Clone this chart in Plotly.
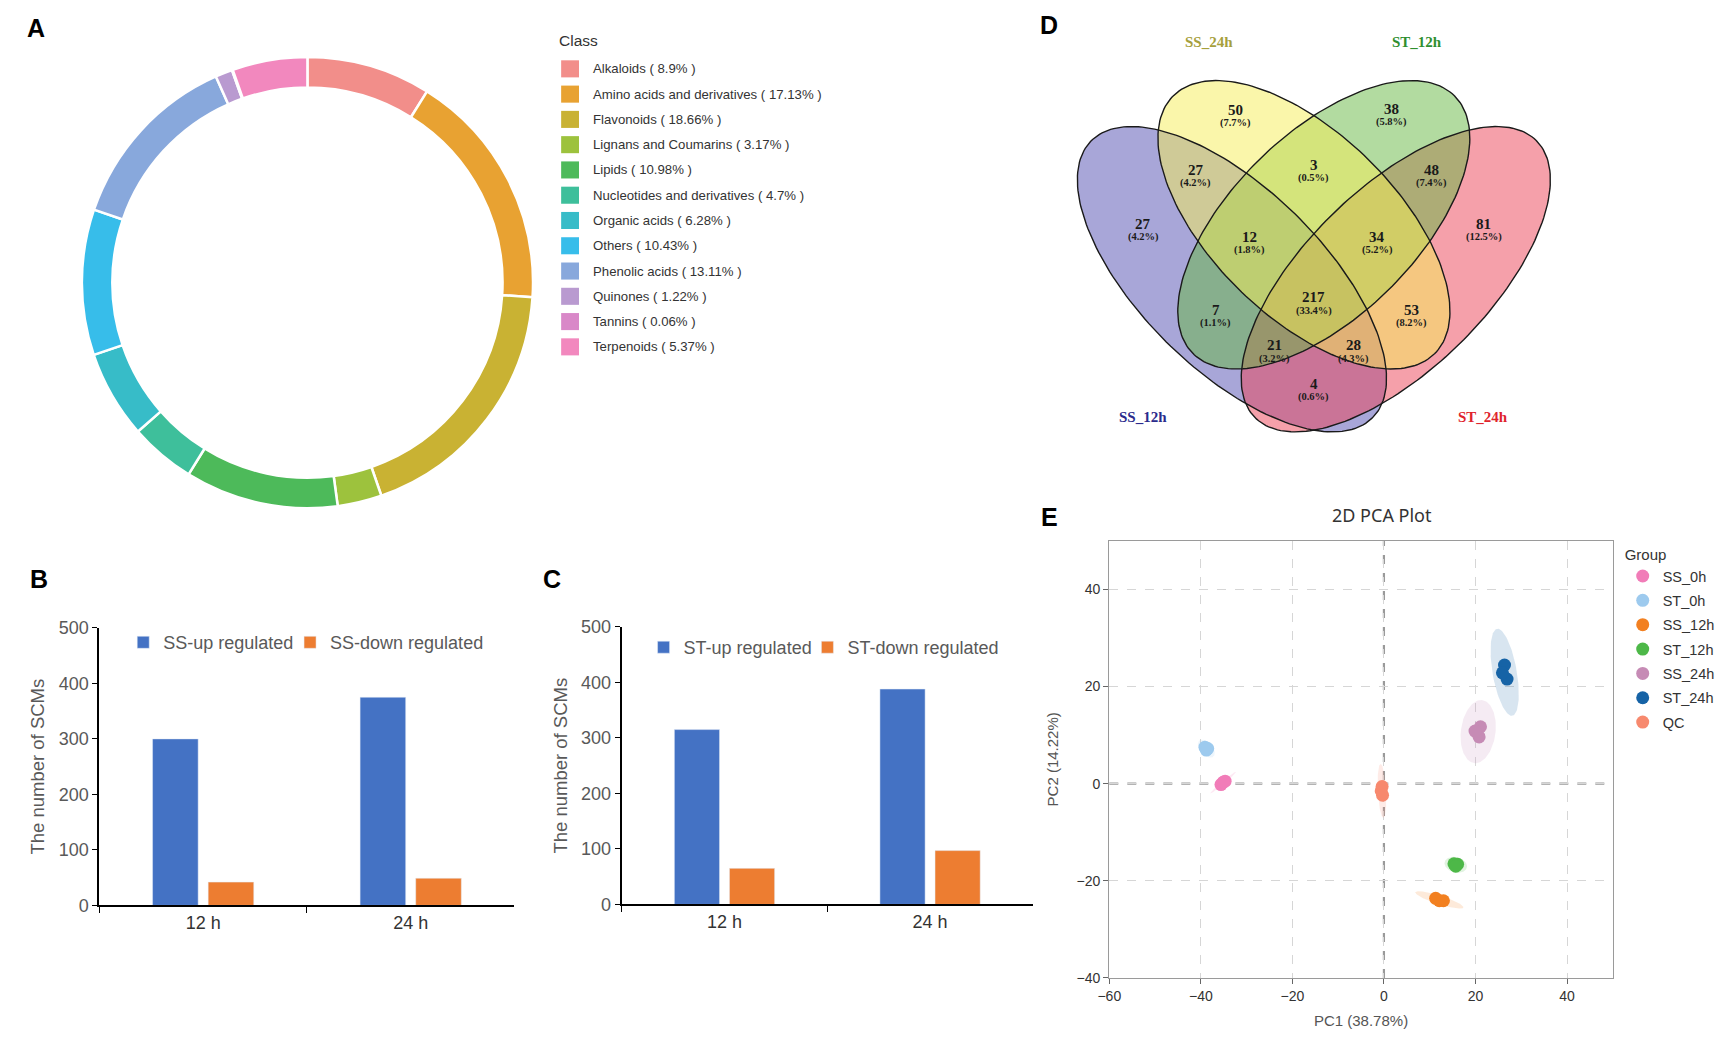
import numpy as np
import plotly.graph_objects as go

W, H = 1723, 1039

# ---------------- Panel A data ----------------
class_names = ["Alkaloids", "Amino acids and derivatives", "Flavonoids", "Lignans and Coumarins",
               "Lipids", "Nucleotides and derivatives", "Organic acids", "Others",
               "Phenolic acids", "Quinones", "Tannins", "Terpenoids"]
class_pcts = [8.9, 17.13, 18.66, 3.17, 10.98, 4.7, 6.28, 10.43, 13.11, 1.22, 0.06, 5.37]
class_colors = ["#F28E8A", "#E8A232", "#C9B233", "#9DC23D", "#4DBA5A", "#3EBF9B",
                "#37BCC8", "#37BDEA", "#88A8DC", "#B99AD0", "#D988C8", "#F288BE"]

# ---------------- Panels B / C data ----------------
time_labels = ["12 h", "24 h"]
ss_up = [300, 375]
ss_down = [42, 49]
st_up = [315, 388]
st_down = [65, 97]

# ---------------- Panel D data ----------------
venn_sets = ["SS_12h", "SS_24h", "ST_12h", "ST_24h"]
venn_set_colors = ["#2B2B8C", "#A6A03C", "#2F8F2F", "#E0242C"]
venn_regions = ["A", "B", "C", "D", "AB", "BC", "CD", "AC", "BD", "AD",
                "ABC", "BCD", "ACD", "ABD", "ABCD"]
venn_counts = [27, 50, 38, 81, 27, 3, 48, 7, 53, 4, 12, 34, 21, 28, 217]

# ---------------- Panel E data ----------------
pca_groups = ["SS_0h", "ST_0h", "SS_12h", "ST_12h", "SS_24h", "ST_24h", "QC"]
pca_colors = ["#F17CB8", "#9DCAEE", "#F28021", "#4DB848", "#C68BB5", "#1663A6", "#F7896E"]
pca_pc1 = [[-35.6, -34.7, -35.1], [-39.1, -38.5, -38.8], [13.0, 11.3, 12.1],
           [15.3, 16.1, 15.7], [21.1, 20.8, 19.9], [26.35, 26.9, 25.9], [-0.4, -0.6, -0.3]]
pca_pc2 = [[-0.2, 0.5, 0.3], [7.5, 7.2, 6.9], [-24.1, -23.6, -24.1],
           [-16.5, -16.6, -17.0], [11.7, 9.6, 10.8], [24.4, 21.5, 22.8], [-0.6, -1.5, -2.4]]

# ---------------- helpers ----------------
def PX(x):
    return x / W

def PY(y):
    return 1 - y / H

SANS = "Liberation Sans, Arial, sans-serif"
SERIF = "Liberation Serif, Times New Roman, serif"
BLUE, ORANGE = "#4472C4", "#ED7D31"

fig = go.Figure()

# ---------------- Panel A: donut ----------------
cx_a, cy_a, r_a = 297.5, 278, 230
fig.add_trace(go.Pie(
    labels=class_names, values=class_pcts, sort=False, direction="clockwise", rotation=0,
    hole=0.865, textinfo="none", showlegend=False,
    marker=dict(colors=class_colors, line=dict(color="white", width=2.5)),
    domain=dict(x=[PX(cx_a - r_a), PX(cx_a + r_a)], y=[PY(cy_a + r_a), PY(cy_a - r_a)]),
))

shapes = []
annotations = []

# manual "Class" legend
annotations.append(dict(x=PX(549), y=PY(31.5), xref="paper", yref="paper", xanchor="left",
                        yanchor="middle", text="Class", showarrow=False,
                        font=dict(family=SANS, size=15.5, color="#333333")))
for i, (nm, pc, col) in enumerate(zip(class_names, class_pcts, class_colors)):
    yc = 60 + 25.77 * i
    shapes.append(dict(type="rect", xref="paper", yref="paper", x0=PX(553), x1=PX(571),
                       y0=PY(yc + 8.7), y1=PY(yc - 8.7), fillcolor=col, line=dict(width=0)))
    annotations.append(dict(x=PX(583), y=PY(yc), xref="paper", yref="paper", xanchor="left",
                            yanchor="middle", text=f"{nm} ( {pc:g}% )", showarrow=False,
                            font=dict(family=SANS, size=13.2, color="#333333")))

# ---------------- Panels B / C: bars ----------------
fig.add_trace(go.Bar(x=time_labels, y=ss_up, name="SS-up regulated", marker_color=BLUE,
                     xaxis="x", yaxis="y", legend="legend"))
fig.add_trace(go.Bar(x=time_labels, y=ss_down, name="SS-down regulated", marker_color=ORANGE,
                     xaxis="x", yaxis="y", legend="legend4"))
fig.add_trace(go.Bar(x=time_labels, y=st_up, name="ST-up regulated", marker_color=BLUE,
                     xaxis="x2", yaxis="y2", legend="legend2"))
fig.add_trace(go.Bar(x=time_labels, y=st_down, name="ST-down regulated", marker_color=ORANGE,
                     xaxis="x2", yaxis="y2", legend="legend5"))

# ---------------- Panel D: Venn ----------------
venn_geom = {  # ellipse centre x, centre y, semi-major, semi-minor, angle (deg), in panel pixels
    "A": (1228.5, 274.5, 200, 92, 45),
    "B": (1301, 219, 186, 93, 45),
    "C": (1321, 219, 186, 93, -45),
    "D": (1393.5, 274.5, 200, 92, -45),
}
venn_fill = {"A": "rgba(81,77,177,0.5)", "B": "rgba(245,237,85,0.5)",
             "C": "rgba(101,183,65,0.5)", "D": "rgba(235,65,85,0.5)"}
venn_draw_order = ["A", "D", "C", "B"]
venn_label_xy = {
    "A": (1139, 218), "B": (1232, 102), "C": (1389, 101), "D": (1482, 218),
    "AB": (1192, 163), "BC": (1311, 158), "CD": (1429, 163), "AC": (1212, 306),
    "BD": (1409, 306), "AD": (1311, 381), "ABC": (1246, 231), "BCD": (1375, 231),
    "ACD": (1271, 342), "ABD": (1351, 342), "ABCD": (1311, 293),
}
venn_name_xy = [(1139, 415), (1205, 33), (1415, 33), (1481, 415)]

tt = np.linspace(0, 2 * np.pi, 200)
ell_paths = {}
for key in ["A", "B", "C", "D"]:
    ex, ey, ea, eb, ang = venn_geom[key]
    ph = np.deg2rad(ang)
    xs = ex + ea * np.cos(tt) * np.cos(ph) - eb * np.sin(tt) * np.sin(ph)
    ys = ey + ea * np.cos(tt) * np.sin(ph) + eb * np.sin(tt) * np.cos(ph)
    ell_paths[key] = (xs, ys)
for key in venn_draw_order:
    xs, ys = ell_paths[key]
    fig.add_trace(go.Scatter(x=xs, y=ys, mode="lines", fill="toself", fillcolor=venn_fill[key],
                             line=dict(width=0), showlegend=False, hoverinfo="skip",
                             xaxis="x4", yaxis="y4"))
for key in venn_draw_order:
    xs, ys = ell_paths[key]
    fig.add_trace(go.Scatter(x=xs, y=ys, mode="lines", line=dict(color="#1a1a1a", width=1.4),
                             showlegend=False, hoverinfo="skip", xaxis="x4", yaxis="y4"))

total = sum(venn_counts)
for reg, cnt in zip(venn_regions, venn_counts):
    lx, ly = venn_label_xy[reg]
    annotations.append(dict(x=lx, y=ly, xref="x4", yref="y4", text=f"<b>{cnt}</b>",
                            xanchor="center", yanchor="middle",
                            showarrow=False, font=dict(family=SERIF, size=15, color="#1a1a1a")))
    annotations.append(dict(x=lx, y=ly + 13.5, xref="x4", yref="y4",
                            text=f"<b>({round(100 * cnt / total, 1)}%)</b>",
                            xanchor="center", yanchor="middle",
                            showarrow=False, font=dict(family=SERIF, size=10.5, color="#1a1a1a")))
for nm, col, (nx, ny) in zip(venn_sets, venn_set_colors, venn_name_xy):
    annotations.append(dict(x=nx, y=ny, xref="x4", yref="y4", text=f"<b>{nm}</b>",
                            xanchor="center", yanchor="middle",
                            showarrow=False, font=dict(family=SERIF, size=15, color=col)))

# ---------------- Panel E: PCA ----------------
K_ELL = np.sqrt(2 * 19.0)  # 95% t-ellipse scale for n = 3


def conf_ellipse(xs, ys, k, n=120):
    pts = np.column_stack([xs, ys])
    m = pts.mean(axis=0)
    cov = np.cov(pts, rowvar=False)
    vals, vecs = np.linalg.eigh(cov)
    t = np.linspace(0, 2 * np.pi, n)
    circ = np.stack([np.cos(t), np.sin(t)])
    ell = (vecs @ np.diag(np.sqrt(np.maximum(vals, 0))) @ circ) * k
    return m[0] + ell[0], m[1] + ell[1]


def rgba(hexc, a):
    hexc = hexc.lstrip("#")
    r, g, b = int(hexc[0:2], 16), int(hexc[2:4], 16), int(hexc[4:6], 16)
    return f"rgba({r},{g},{b},{a})"


for g, col, xs, ys in zip(pca_groups, pca_colors, pca_pc1, pca_pc2):
    ex, ey = conf_ellipse(xs, ys, K_ELL)
    fig.add_trace(go.Scatter(x=ex, y=ey, mode="lines", fill="toself", fillcolor=rgba(col, 0.17),
                             line=dict(width=0), showlegend=False, hoverinfo="skip",
                             xaxis="x3", yaxis="y3"))
for g, col, xs, ys in zip(pca_groups, pca_colors, pca_pc1, pca_pc2):
    fig.add_trace(go.Scatter(x=xs, y=ys, mode="markers", name=g, legendgroup=g,
                             marker=dict(color=col, size=13, line=dict(width=0)),
                             xaxis="x3", yaxis="y3", legend="legend3"))

shapes.append(dict(type="line", xref="x3", yref="y3 domain", x0=0, x1=0, y0=0, y1=1,
                   line=dict(color="#9a9a9a", width=2.2, dash="dash"), layer="below"))
shapes.append(dict(type="line", xref="x3 domain", yref="y3", x0=0, x1=1, y0=0, y1=0,
                   line=dict(color="#9a9a9a", width=2.2, dash="dash"), layer="below"))

annotations.append(dict(x=PX(1380), y=PY(515), xref="paper", yref="paper", text="2D PCA Plot",
                        xanchor="center", yanchor="middle", showarrow=False,
                        font=dict(family="Noto Sans, " + SANS, size=18, color="#333333")))

# panel letters
for lab, (lx, ly) in zip("ABCDE", [(24, 18), (27, 580), (544, 580), (1044, 15), (1045, 517)]):
    annotations.append(dict(x=PX(lx), y=PY(ly), xref="paper", yref="paper", text=f"<b>{lab}</b>",
                            xanchor="center", yanchor="middle",
                            showarrow=False, font=dict(family=SANS, size=25, color="black")))

# ---------------- axes ----------------
def bar_x(dom, anchor):
    return dict(domain=dom, anchor=anchor, type="category", showline=True, linecolor="black",
                linewidth=1.5, ticks="outside", tickson="boundaries", ticklen=6, tickcolor="black",
                tickfont=dict(family=SANS, size=18, color="#333333"), showgrid=False,
                zeroline=False, fixedrange=True)


def bar_y(dom, anchor):
    return dict(domain=dom, anchor=anchor, range=[0, 500], dtick=100, showline=True,
                linecolor="black", linewidth=2, ticks="outside", ticklen=5, tickcolor="black",
                tickfont=dict(family=SANS, size=18, color="#595959"), showgrid=False,
                zeroline=False, fixedrange=True,
                title=dict(text="The number of SCMs", standoff=9,
                           font=dict(family=SANS, size=18.5, color="#595959")))


pca_axis_common = dict(showline=True, mirror=True, linecolor="#9a9a9a", linewidth=1.3,
                       ticks="outside", ticklen=5, tickcolor="#666666",
                       tickfont=dict(family=SANS, size=14, color="#333333"),
                       showgrid=True, gridcolor="#d6d6d6", griddash="dash", gridwidth=1,
                       zeroline=False, fixedrange=True)

legend_common = dict(bgcolor="rgba(0,0,0,0)", borderwidth=0, itemclick=False,
                     itemdoubleclick=False)
bar_leg_font = dict(family=SANS, size=18, color="#595959")

fig.update_layout(
    width=W, height=H, autosize=False,
    margin=dict(l=0, r=0, t=0, b=0),
    paper_bgcolor="white", plot_bgcolor="rgba(0,0,0,0)",
    barmode="group", bargap=0.464, bargroupgap=0.18,
    xaxis=bar_x([PX(88), PX(506)], "y"),
    yaxis=bar_y([PY(913), PY(630)], "x"),
    xaxis2=bar_x([PX(614), PX(1028)], "y2"),
    yaxis2=bar_y([PY(912), PY(629)], "x2"),
    xaxis3=dict(domain=[PX(1105), PX(1612)], anchor="y3", range=[-60, 50], tick0=-60, dtick=20,
                title=dict(text="PC1 (38.78%)", standoff=12,
                           font=dict(family=SANS, size=15, color="#555555")),
                **pca_axis_common),
    yaxis3=dict(domain=[PY(987), PY(541)], anchor="x3", range=[-40, 50], tick0=-40, dtick=20,
                title=dict(text="PC2 (14.22%)", standoff=14,
                           font=dict(family=SANS, size=15, color="#555555")),
                **pca_axis_common),
    xaxis4=dict(domain=[PX(1040), PX(1580)], anchor="y4", range=[1040, 1580], visible=False,
                fixedrange=True),
    yaxis4=dict(domain=[PY(440), PY(20)], anchor="x4", range=[440, 20], visible=False,
                fixedrange=True),
    legend=dict(orientation="h", x=PX(112), xanchor="left", y=PY(645), yanchor="middle",
                font=bar_leg_font, **legend_common),
    legend4=dict(orientation="h", x=PX(280), xanchor="left", y=PY(645), yanchor="middle",
                 font=bar_leg_font, **legend_common),
    legend2=dict(orientation="h", x=PX(636), xanchor="left", y=PY(650), yanchor="middle",
                 font=bar_leg_font, **legend_common),
    legend5=dict(orientation="h", x=PX(801), xanchor="left", y=PY(650), yanchor="middle",
                 font=bar_leg_font, **legend_common),
    legend3=dict(orientation="v", x=PX(1622), xanchor="left", y=PY(541), yanchor="top",
                 title=dict(text="Group", font=dict(family=SANS, size=15, color="#333333")),
                 font=dict(family=SANS, size=14.5, color="#333333"), tracegroupgap=2.5,
                 itemsizing="trace", **legend_common),
    shapes=shapes,
    annotations=annotations,
    showlegend=True,
)

fig.write_html(
    "out.html",
    config={"displayModeBar": False, "staticPlot": False},
    post_script="document.body.style.margin='0';document.body.style.padding='0';"
                "document.documentElement.style.overflow='hidden';",
)
